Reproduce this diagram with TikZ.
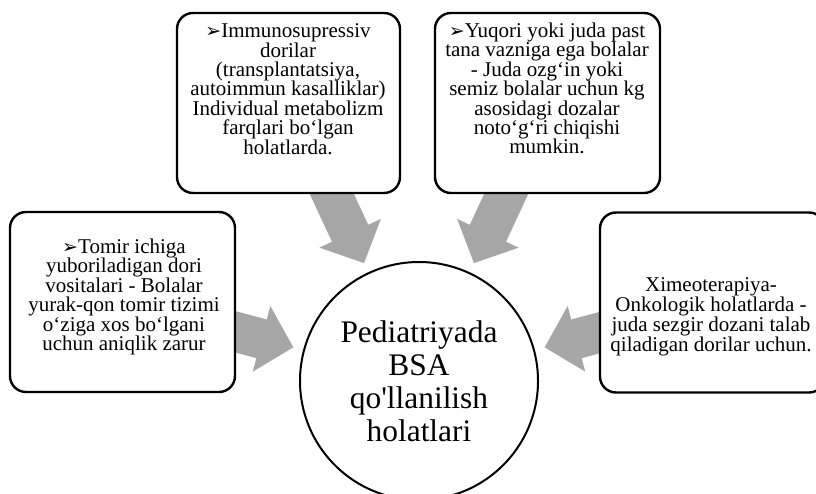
\documentclass[tikz,border=0pt]{standalone}
\usepackage{fontspec}
\setmainfont{Liberation Serif}
\newfontfamily\symfont{DejaVu Sans}
\usetikzlibrary{calc}
\usetikzlibrary{arrows.meta}
\usetikzlibrary{backgrounds}
\definecolor{arrowgray}{HTML}{A6A6A6}
\newcommand{\pointer}{{\symfont\fontsize{19}{17}\selectfont ➢}}
\tikzset{
	infobox/.style={draw, line width=2.4pt, rounded corners=16pt, fill=white, minimum width=225pt, minimum height=180pt},
	boxtext/.style={align=center, inner sep=0pt, font=\fontsize{21}{19.4}\selectfont},
	hub/.style={circle, draw, line width=2pt, fill=white, minimum size=238pt, align=center, inner sep=0pt, font=\fontsize{31.4}{33}\selectfont},
	flow/.style={arrowgray, line width=40pt, shorten >=10pt, -{Triangle[length=33pt,width=66pt]}}
}

\begin{document}
\begin{tikzpicture}[x=1pt,y=1pt]
	\useasboundingbox (0,0) rectangle (816,493);
	\node[hub] (hub) at (419,112) {Pediatriyada\\BSA\\qo\textquotesingle llanilish\\holatlari};
	
	\node[infobox] (tomir) at (122.5,191) {};
	\node[infobox, minimum width=223pt] (immuno) at (288.5,390) {};
	\node[infobox] (vazn) at (547.5,390) {};
	\node[infobox] (ximeo) at (712.5,190.5) {};
	
	\node[boxtext] (tomirtext) at (124,196) {\pointer Tomir ichiga\\yuboriladigan dori\\vositalari - Bolalar\\yurak-qon tomir tizimi\\o‘ziga xos bo‘lgani\\uchun aniqlik zarur};
	\node[boxtext] (immunotext) at (288,404) {\pointer Immunosupressiv\\dorilar\\(transplantatsiya,\\autoimmun kasalliklar)\\Individual metabolizm\\farqlari bo‘lgan\\holatlarda.};
	\node[boxtext] (vazntext) at (547,404.5) {\pointer Yuqori yoki juda past\\tana vazniga ega bolalar\\- Juda ozg‘in yoki\\semiz bolalar uchun kg\\asosidagi dozalar\\noto‘g‘ri chiqishi\\mumkin.};
	\node[boxtext, font=\fontsize{21}{17.7}\selectfont] (ximeotext) at (711,176.5) {Ximeoterapiya-\\Onkologik holatlarda -\\juda sezgir dozani talab\\qiladigan dorilar uchun.};
	
	% gray arrows behind the boxes
	\coordinate (tomirarrow) at ($(hub.center)+(165:250)$);
	\coordinate (immunoarrow) at ($(hub.center)+(115:250)$);
	\coordinate (vaznarrow) at ($(hub.center)+(65:250)$);
	\coordinate (ximeoarrow) at ($(hub.center)+(15:250)$);
	\begin{scope}[on background layer]
		\draw[flow] (tomirarrow) -- (hub);
		\draw[flow] (immunoarrow) -- (hub);
		\draw[flow] (vaznarrow) -- (hub);
		\draw[flow] (ximeoarrow) -- (hub);
	\end{scope}
\end{tikzpicture}
\end{document}
